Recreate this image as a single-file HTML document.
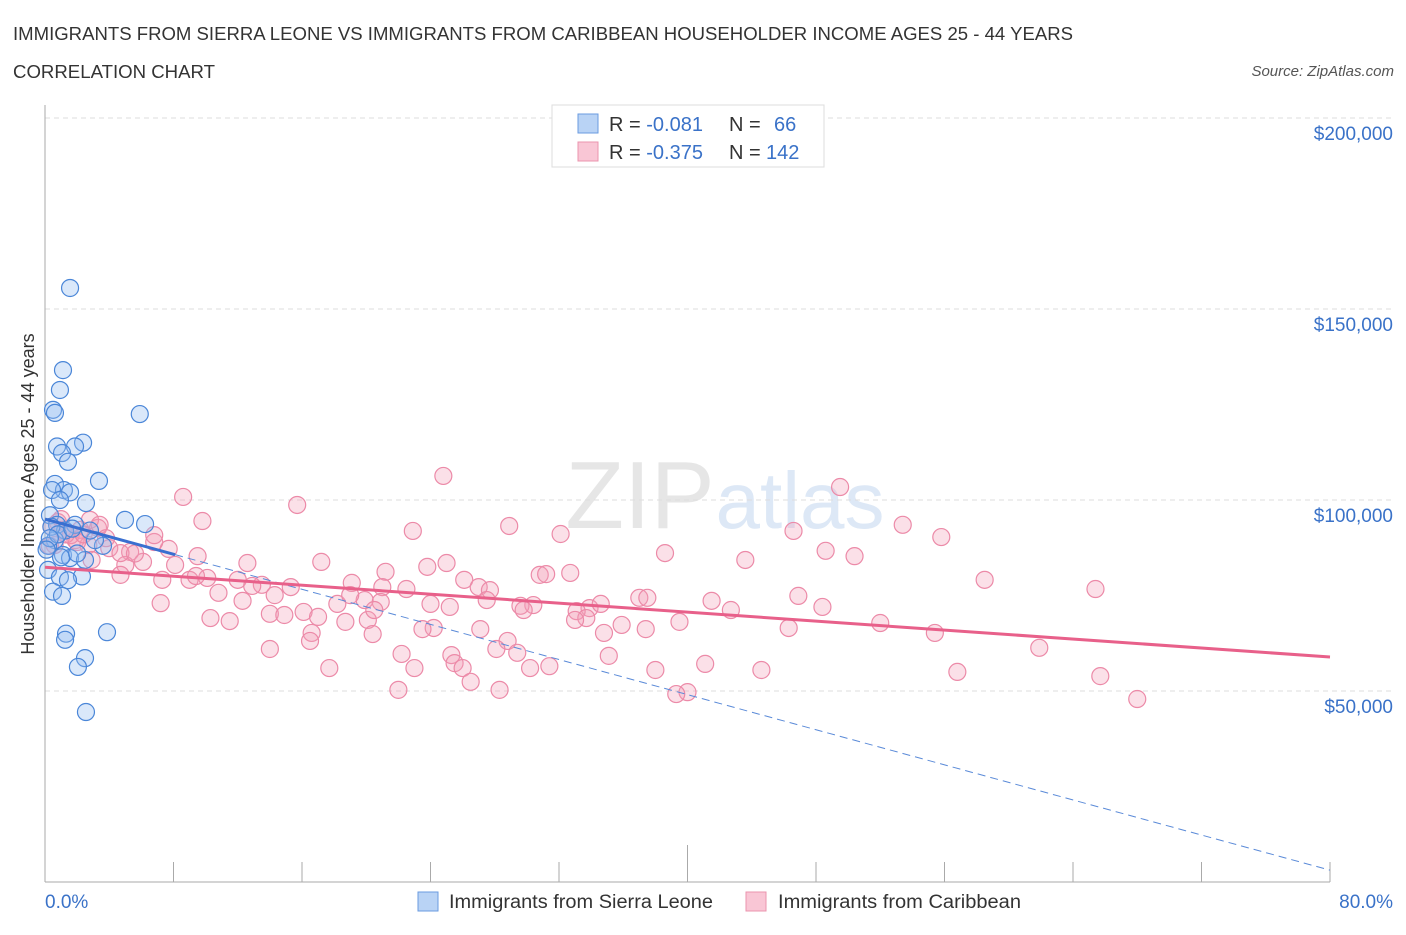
<!DOCTYPE html>
<html><head><meta charset="utf-8">
<style>
body{margin:0;background:#fff;font-family:"Liberation Sans",sans-serif;}
svg text{font-family:"Liberation Sans",sans-serif;}
</style></head><body>
<svg id="chart" width="1406" height="930" xmlns="http://www.w3.org/2000/svg">
<text x="13" y="40" font-size="18" fill="#333" textLength="1060" lengthAdjust="spacingAndGlyphs">IMMIGRANTS FROM SIERRA LEONE VS IMMIGRANTS FROM CARIBBEAN HOUSEHOLDER INCOME AGES 25 - 44 YEARS</text>
<text x="13" y="78" font-size="18" fill="#333" textLength="202" lengthAdjust="spacingAndGlyphs">CORRELATION CHART</text>
<text x="1394" y="76" font-size="15" fill="#555" font-style="italic" text-anchor="end">Source: ZipAtlas.com</text>
<text x="640" y="528" font-size="96" fill="#e6e6e6" text-anchor="middle" font-family="Liberation Serif">ZIP</text>
<text x="800" y="528" font-size="80" fill="#dde8f6" text-anchor="middle">atlas</text>
<g id="grid"></g>
<g id="axes"></g>
<g id="pts"></g>
<g id="trends"></g>
<text transform="translate(34,494) rotate(-90)" font-size="18" fill="#333" text-anchor="middle">Householder Income Ages 25 - 44 years</text>
<g>
<rect x="552" y="105" width="272" height="62" fill="#fff" stroke="#ddd"/>
<rect x="578" y="114" width="20" height="19" fill="#b9d3f5" stroke="#6a9be0"/>
<rect x="578" y="142" width="20" height="19" fill="#f9c6d5" stroke="#eb94ae"/>
<text x="609" y="131" font-size="20" fill="#333">R = <tspan fill="#3a72c8">-0.081</tspan><tspan x="729">N = </tspan><tspan x="774" fill="#3a72c8">66</tspan></text>
<text x="609" y="159" font-size="20" fill="#333">R = <tspan fill="#3a72c8">-0.375</tspan><tspan x="729">N = </tspan><tspan x="766" fill="#3a72c8">142</tspan></text>
</g>
<g>
<rect x="418" y="892" width="20" height="19" fill="#b9d3f5" stroke="#6a9be0"/>
<text x="449" y="908" font-size="19" fill="#333" textLength="264" lengthAdjust="spacingAndGlyphs">Immigrants from Sierra Leone</text>
<rect x="746" y="892" width="20" height="19" fill="#f9c6d5" stroke="#eb94ae"/>
<text x="778" y="908" font-size="19" fill="#333" textLength="243" lengthAdjust="spacingAndGlyphs">Immigrants from Caribbean</text>
</g>
</svg>
<script>
const yTicks=[50000,100000,150000,200000];
const yTickLabels=["$50,000","$100,000","$150,000","$200,000"];
const xTickLabels=["0.0%","80.0%"];
const blueX=[1.56,1.12,0.93,0.5,0.62,5.9,0.75,2.37,1.87,1.06,1.43,0.62,3.36,1.18,0.44,1.56,2.55,0.93,4.98,6.23,0.31,0.75,1.87,1.25,0.62,0.19,3.61,3.11,1.12,1.56,2.49,0.19,2.3,0.93,1.43,0.5,1.06,3.86,1.31,1.25,2.49,2.05,2.55,0.4,0.8,1.7,2.8,0.3,0.1,1.0,2.0];
const blueY=[155.5,134,128.8,123.6,122.8,122.5,114,115,114,112.3,110,104.2,105,102.6,102.6,102,99.2,100,94.8,93.7,96,93.5,93.5,92,89.5,88,88,89.5,85.6,84.8,84.3,81.7,80,79.8,79,76,74.9,65.4,65,63.4,58.6,56.3,44.5,93,91,92.5,92,90,87,85,86];
const pinkX=[8.6,15.7,24.8,9.8,22.9,28.9,32.1,46.6,49.5,53.4,55.8,38.6,43.6,48.6,50.4,17.2,25.0,21.2,23.8,12.6,7.7,5.3,3.3,1.9,4.0,6.8,5.0,9.0,10.1,12.0,13.5,15.3,19.1,21.0,22.5,26.1,27.0,27.7,30.8,32.7,31.2,30.4,33.9,33.1,34.6,37.0,37.5,41.5,42.7,46.9,48.4,52.0,58.5,65.4,7.2,10.8,12.3,12.9,14.0,14.9,16.1,17.0,18.2,19.9,20.1,20.9,24.0,25.2,27.5,29.6,29.8,33.7,39.5,46.3,55.4,61.9,65.7,68.0,56.8,44.6,41.1,40.0,39.3,38.0,35.1,34.8,35.9,37.4,31.4,30.2,28.8,28.1,29.4,27.1,25.3,25.5,26.0,26.5,23.0,22.2,22.0,24.2,23.5,17.7,16.6,16.5,18.7,20.4,20.5,14.0,11.5,10.3,7.3,6.1,8.1,9.4,2.7,1.1,1.6,2.2,2.8,3.4,2.9,0.6,0.8,4.7,9.5,6.8,4.7,28.3,33.0,19.0,14.3,1.3,2.0,0.4,3.8,5.6,1.0,2.4,0.3];
const pinkY=[100.8,98.7,106.3,94.5,91.9,93.2,91.1,91.9,103.4,93.5,90.3,86.1,84.3,86.7,85.3,83.8,83.5,81.2,82.5,83.5,87.2,86.4,92.7,89.5,87.4,89.0,83.0,79.1,79.6,79.1,77.8,77.2,78.3,77.2,76.7,79.1,77.2,76.4,80.4,80.9,80.6,72.5,71.7,70.9,72.8,74.4,74.4,73.6,71.2,74.9,72.0,67.8,79.1,76.7,73.0,75.7,73.6,77.5,70.2,69.9,70.7,69.4,72.8,73.8,68.6,73.3,72.8,72.0,73.8,72.3,71.2,69.1,68.1,66.5,65.2,61.3,53.9,47.9,55.0,55.5,57.1,49.7,49.2,55.5,59.2,65.2,67.3,66.2,56.5,56.0,63.1,61.0,60.0,66.2,59.4,57.3,56.0,52.4,56.0,59.7,50.3,66.5,66.2,56.0,65.2,63.1,68.1,64.9,71.2,61.0,68.3,69.1,79.1,83.8,83.0,80.1,88.2,92.2,90.8,92.2,94.8,93.5,84.3,88.2,94.2,80.4,85.3,90.8,86.1,50.3,68.6,75.1,75.1,91,89,93,90,86,95,91,88];
const blueTrend=[95.0,3.1], blueSolidEnd=8.1;
const pinkTrend=[82.4,58.9];

const NS="http://www.w3.org/2000/svg";
const X0=45,X1=1330,YB=882,YT=118;
const xs=p=>X0+p/80*(X1-X0);
const ys=k=>YB-k/200*(YB-YT);
function mk(tag,attrs,parent){const e=document.createElementNS(NS,tag);for(const k in attrs)e.setAttribute(k,attrs[k]);parent.appendChild(e);return e;}
const grid=document.getElementById('grid'),axes=document.getElementById('axes'),pts=document.getElementById('pts'),tr=document.getElementById('trends');
yTicks.forEach((v,i)=>{
  const y=ys(v/1000);
  const l=mk('line',{x1:X0,x2:1392,y1:y,y2:y,stroke:'#ddd','stroke-dasharray':'5,4'},grid);
  
  
  const t=mk('text',{x:1393,y:y+22,'font-size':19,fill:'#3a72c8','text-anchor':'end'},axes);
  t.textContent=yTickLabels[i];
  
  
});
const ax=mk('line',{x1:X0,x2:X0,y1:105,y2:YB,stroke:'#aaa'},axes);


const bx=mk('line',{x1:X0,x2:X1,y1:YB,y2:YB,stroke:'#aaa'},axes);


for(let i=0;i<=10;i++){
  const x=X0+i*(X1-X0)/10;
  const tk=mk('line',{x1:x,x2:x,y1:YB,y2:i==5?845:862,stroke:'#aaa'},axes);
  
  
}
[[0,'start',45],[80,'end',1393]].forEach((d,i)=>{
  const t=mk('text',{x:d[2],y:908,'font-size':19,fill:'#3a72c8','text-anchor':d[1]},axes);
  t.textContent=xTickLabels[i];
  
  
});
pinkX.forEach((x,i)=>{
  const c=mk('circle',{cx:xs(x),cy:ys(pinkY[i]),r:8.5,fill:'rgba(244,160,185,0.32)',stroke:'#ec8aa8','stroke-width':1.2},pts);
  
  
});
blueX.forEach((x,i)=>{
  const c=mk('circle',{cx:xs(x),cy:ys(blueY[i]),r:8.5,fill:'rgba(150,190,240,0.35)',stroke:'#4a86d8','stroke-width':1.2},pts);
  
  
});
const bAt=p=>blueTrend[0]+(blueTrend[1]-blueTrend[0])*p/80;
const bs=mk('line',{x1:xs(0),y1:ys(bAt(0)),x2:xs(blueSolidEnd),y2:ys(bAt(blueSolidEnd)),stroke:'#3a6fd0','stroke-width':3},tr);


const bd=mk('line',{x1:xs(blueSolidEnd),y1:ys(bAt(blueSolidEnd)),x2:xs(80),y2:ys(bAt(80)),stroke:'#5a8ad8','stroke-width':1,'stroke-dasharray':'8,5'},tr);


const pl=mk('line',{x1:xs(0),y1:ys(pinkTrend[0]),x2:xs(80),y2:ys(pinkTrend[1]),stroke:'#e8608a','stroke-width':3},tr);


</script>
</body></html>
